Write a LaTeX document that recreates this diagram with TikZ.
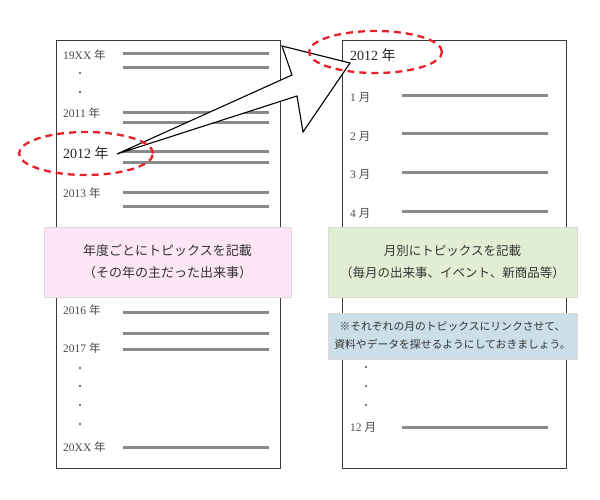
\documentclass[tikz,border=0pt]{standalone}
\usepackage{fontspec}
\setmainfont{Liberation Serif}
\newfontfamily\jp{Noto Sans CJK JP}
\usetikzlibrary{shapes.geometric}

\definecolor{pageedge}{HTML}{3D3838}
\definecolor{topicgray}{HTML}{8A8A8A}
\definecolor{lblgray}{HTML}{4A4A4A}
\definecolor{ovalred}{HTML}{E8202A}
\definecolor{pinkbg}{HTML}{FCE6F5}
\definecolor{greenbg}{HTML}{E2EED3}
\definecolor{bluebg}{HTML}{CCDEE8}
\definecolor{boxedge}{HTML}{DADADA}

\newcommand{\nen}{{\jp 年}}
\newcommand{\tsuki}{{\jp 月}}

\begin{document}
\begin{tikzpicture}[x=1pt, y=-1pt,
	page/.style={draw=pageedge, line width=1pt},
	topic/.style={draw=topicgray, line width=3pt},
	yearlbl/.style={anchor=west, inner sep=0pt, text=lblgray, font=\fontsize{11.5}{13}\selectfont},
	biglbl/.style={yearlbl, text=black!85, font=\fontsize{14}{16}\selectfont},
	notebox/.style={draw=boxedge, line width=0.8pt, align=center, text=black!80, inner sep=0pt},
	oval/.style={ellipse, draw=ovalred, line width=2.3pt, dash pattern=on 7pt off 5pt, inner sep=0pt},
	dotmark/.style={circle, fill=lblgray, inner sep=0pt, minimum size=2.2pt}
	] % page coordinates in pt, y downwards
	
	\useasboundingbox[fill=white] (0,0) rectangle (600,500);
	
	% The two pages
	\draw[page] (56,41) rectangle (280,468);
	\draw[page] (342,41) rectangle (566,468);
	
	% Topic lines, yearly page
	\foreach \y in {54,68,113,123,152,163,193,206,312,333,349,447}
		\draw[topic] (123,\y) -- (269,\y);
	
	% Topic lines, monthly page
	\foreach \y in {96,134,173,211,427}
		\draw[topic] (402,\y) -- (548,\y);
	
	% Year labels
	\node[yearlbl] (y19xx) at (63,55) {19XX \nen};
	\node[yearlbl] (y2011) at (63,113) {2011 \nen};
	\node[biglbl]  (y2012) at (63,153) {2012 \nen};
	\node[yearlbl] (y2013) at (63,193) {2013 \nen};
	\node[yearlbl] (y2016) at (63,310) {2016 \nen};
	\node[yearlbl] (y2017) at (63,348) {2017 \nen};
	\node[yearlbl] (y20xx) at (63,447) {20XX \nen};
	
	% Month labels
	\node[biglbl]  (m2012) at (350,55) {2012 \nen};
	\node[yearlbl] (m1)  at (350,97)  {1 \tsuki};
	\node[yearlbl] (m2)  at (350,136) {2 \tsuki};
	\node[yearlbl] (m3)  at (350,174) {3 \tsuki};
	\node[yearlbl] (m4)  at (350,213) {4 \tsuki};
	\node[yearlbl] (m12) at (350,427) {12 \tsuki};
	
	% Dots for the skipped entries
	\foreach \y in {73,92,368,386,405,424}
		\node[dotmark] at (80,\y) {};
	\foreach \y in {367,386,405}
		\node[dotmark] at (366,\y) {};
	
	% Note boxes
	\node[notebox, fill=pinkbg, minimum width=247pt, minimum height=70pt,
		font=\jp\fontsize{13}{22}\selectfont] (yearnote) at (167.5,262)
		{年度ごとにトピックスを記載\\（その年の主だった出来事）};
	\node[notebox, fill=greenbg, minimum width=249pt, minimum height=70pt,
		font=\jp\fontsize{12.5}{22}\selectfont] (monthnote) at (452.5,262)
		{月別にトピックスを記載\\（毎月の出来事、イベント、新商品等）};
	\node[notebox, fill=bluebg, minimum width=249pt, minimum height=46pt,
		font=\jp\fontsize{10.8}{18}\selectfont] (linknote) at (452.5,336)
		{※それぞれの月のトピックスにリンクさせて、\\資料やデータを探せるようにしておきましょう。};
	
	% Block arrow from the year entry to the monthly page
	\coordinate (tail) at (117,154);
	\coordinate (tip) at (350,63);
	\filldraw[fill=white, draw=black, line width=1.1pt, line join=miter]
		(tail) -- (292,75) -- (282,46) -- (tip) -- (303,132) -- (297,96) -- cycle;
	
	% Red dashed ovals
	\node[oval, minimum width=134pt, minimum height=43pt] (ovalL) at (86,153.5) {};
	\node[oval, minimum width=133pt, minimum height=42pt] (ovalR) at (375.5,52) {};
	
\end{tikzpicture}
\end{document}
